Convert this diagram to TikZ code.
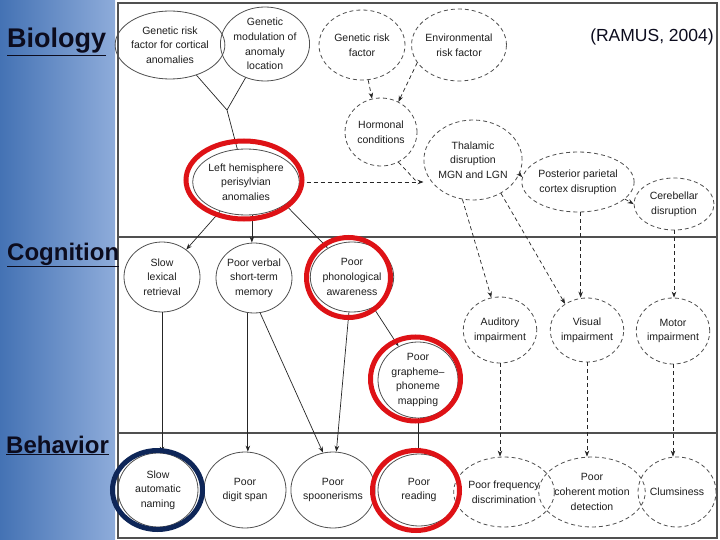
\documentclass[tikz,border=0pt]{standalone}
\usepackage{fontspec}
\setmainfont{Liberation Sans}
\usetikzlibrary{shapes.geometric,arrows.meta}
\definecolor{txt}{RGB}{30,30,30}
\definecolor{edge}{RGB}{80,80,80}
\definecolor{ringred}{RGB}{222,18,22}
\definecolor{ringnavy}{RGB}{14,38,88}
\definecolor{bluedark}{RGB}{68,114,180}
\definecolor{bluelight}{RGB}{142,172,218}
\definecolor{labelc}{RGB}{12,12,30}
\tikzset{
  box/.style={ellipse, draw=edge, line width=0.8pt, inner sep=0pt, align=center,
    text=txt, font=\fontsize{10.5}{14.6}\selectfont},
  dbox/.style={box, dash pattern=on 4pt off 3pt},
  link/.style={draw=black!85, line width=0.7pt},
  arr/.style={link, -{Stealth[length=6pt,width=4.5pt]}},
  darr/.style={arr, dash pattern=on 4pt off 3pt},
  dlink/.style={link, dash pattern=on 4pt off 3pt},
  ring/.style={line width=5pt},
  side/.style={anchor=base west, inner sep=0pt, text=labelc, font=\bfseries\fontsize{24}{28}\selectfont}
}
\begin{document}
\begin{tikzpicture}[x=1pt,y=-1pt]
\useasboundingbox (0,0) rectangle (720,540);
\fill[white] (0,0) rectangle (720,540);
\shade[left color=bluedark, right color=bluelight] (0,0) rectangle (115,540);
% frame
\draw[edge, line width=1.1pt] (118,3) rectangle (717,538);
\draw[edge, line width=1.1pt] (118,237) -- (717,237);
\draw[edge, line width=1.1pt] (118,433) -- (717,433);
% side labels
\node[side, font=\bfseries\fontsize{27}{30}\selectfont] (lbio) at (7,48) {\underline{Biology}};
\node[side] (lcog) at (7,260) {\underline{Cognition}};
\node[side] (lbeh) at (6,453) {\underline{Behavior}};
\node[text=labelc, font=\fontsize{17.5}{20}\selectfont] (ramus) at (652,37) {(RAMUS, 2004)};
% biology
\node[box, minimum width=94pt, minimum height=68pt] (g1) at (170,45) {Genetic risk\\factor for cortical\\anomalies};
\node[box, minimum width=88pt, minimum height=74pt] (g2) at (265,44) {Genetic\\modulation of\\anomaly\\location};
\node[dbox, minimum width=86pt, minimum height=70pt] (gr) at (362,45) {Genetic risk\\factor};
\node[dbox, minimum width=86pt, minimum height=72pt] (env) at (459,45) {Environmental\\risk factor};
\node[dbox, minimum width=72pt, minimum height=68pt] (horm) at (381,132) {Hormonal\\conditions};
\node[dbox, minimum width=82pt, minimum height=80pt] (thal) at (473,160) {Thalamic\\disruption\\MGN and LGN};
\node[dbox, minimum width=96pt, minimum height=60pt] (post) at (578,182) {Posterior parietal\\cortex disruption};
\node[dbox, minimum width=80pt, minimum height=52pt] (cereb) at (674,204) {Cerebellar\\disruption};
\node[box, minimum width=102pt, minimum height=66pt] (lh) at (246,182) {Left hemisphere\\perisylvian\\anomalies};
% cognition
\node[box, minimum width=76pt, minimum height=70pt] (slr) at (162,277) {Slow\\lexical\\retrieval};
\node[box, minimum width=76pt, minimum height=70pt] (psm) at (254,278) {Poor verbal\\short-term\\memory};
\node[box, minimum width=76pt, minimum height=70pt] (ppa) at (352,277) {Poor\\phonological\\awareness};
\node[box, minimum width=80pt, minimum height=76pt] (pgm) at (418,380) {Poor\\grapheme–\\phoneme\\mapping};
\node[dbox, minimum width=70pt, minimum height=66pt] (aud) at (500,330) {Auditory\\impairment};
\node[dbox, minimum width=72pt, minimum height=64pt] (vis) at (587,330) {Visual\\impairment};
\node[dbox, minimum width=72pt, minimum height=66pt] (mot) at (673,331) {Motor\\impairment};
% behavior
\node[box, minimum width=80pt, minimum height=74pt] (san) at (158,490) {Slow\\automatic\\naming};
\node[box, minimum width=82pt, minimum height=76pt] (pds) at (245,490) {Poor\\digit span};
\node[box, minimum width=84pt, minimum height=76pt] (psp) at (333,490) {Poor\\spoonerisms};
\node[box, minimum width=82pt, minimum height=72pt] (pr) at (419,490) {Poor\\reading};
\node[dbox, minimum width=76pt, minimum height=70pt] (pfd) at (504,492) {Poor frequency\\discrimination};
\node[dbox, minimum width=82pt, minimum height=70pt] (pcm) at (592,492) {Poor\\coherent motion\\detection};
\node[dbox, minimum width=78pt, minimum height=70pt] (clm) at (677,492) {Clumsiness};
% connectors biology
\coordinate (J) at (227,110);
\coordinate (M) at (417,182);
\draw[link] (g1) -- (J);
\draw[link] (g2) -- (J);
\draw[link] (J) -- (lh);
\draw[darr] (gr.-80) -- (horm.105);
\draw[darr] (env.-157) -- (horm.60);
\draw[darr] (lh.east) -- (thal.west |- lh.east);
\draw[dlink] (horm.-60) -- (M);
\draw[darr] (thal.-17) -- (post.175);
\draw[darr] (post.-20) -- (cereb.west);
\draw[darr] (thal.-105) -- (aud.105);
\draw[darr] (thal.-50) -- (vis.130);
\draw[darr] (post.-85) -- (post.-85 |- vis.north);
\draw[darr] (cereb.south) -- (cereb.south |- mot.north);
\draw[darr] (aud.south) -- (aud.south |- pfd.north);
\draw[darr] (vis.south) -- (vis.south |- pcm.north);
\draw[darr] (mot.south) -- (mot.south |- clm.north);
% connectors cognition
\draw[arr] (lh) -- (slr);
\draw[arr] (lh.-80) -- (lh.-80 |- psm.north);
\draw[arr] (lh.-30) -- (ppa.130);
\draw[arr] (slr.south) -- (slr.south |- san.north);
\draw[arr] (psm.-100) -- (psm.-100 |- pds.north);
\draw[arr] (psm.-80) -- (psp.105);
\draw[arr] (ppa.-95) -- (psp.85);
\draw[arr] (ppa.-55) -- (pgm.120);
\draw[arr] (pgm.south) -- (pgm.south |- pr.north);
% highlight rings
\draw[ringred, ring] (244,180) ellipse [x radius=58, y radius=39];
\draw[ringred, ring] (348.5,277.5) ellipse [x radius=42, y radius=40];
\draw[ringred, ring] (415.5,379) ellipse [x radius=45, y radius=42];
\draw[ringred, ring] (416,490.5) ellipse [x radius=43.5, y radius=40];
\draw[ringnavy, ring] (157.5,490) ellipse [x radius=45, y radius=39.5];
\end{tikzpicture}
\end{document}
